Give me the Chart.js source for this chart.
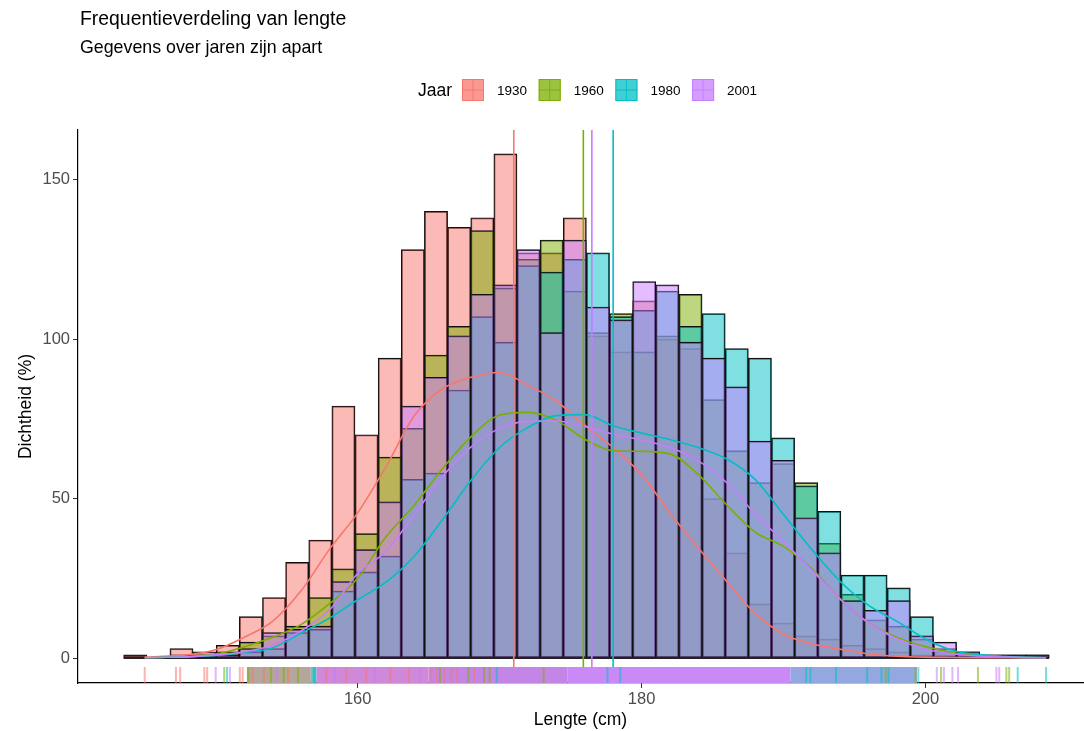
<!DOCTYPE html>
<html>
<head>
<meta charset="utf-8">
<script src="https://cdn.jsdelivr.net/npm/chart.js@4.4.1/dist/chart.umd.min.js"></script>
<style>
  body { margin: 0; background: #fff; }
  canvas { display: block; }
</style>
</head>
<body>
<canvas id="chart" width="1084" height="731"></canvas>
<script>
const FONT = '"Liberation Sans", Arial, sans-serif';

const titleText = 'Frequentieverdeling van lengte';
const subtitleText = 'Gegevens over jaren zijn apart';
const legendTitle = 'Jaar';

const years = ['1930', '1960', '1980', '2001'];
const colors = ['#F8766D', '#7CAE00', '#00BFC4', '#C77CFF'];

// histogram bins (centre of each bin, cm)
const binCenters = [144.33, 145.96, 147.59, 149.22, 150.85, 152.48, 154.11, 155.74, 157.37, 159.00,
  160.63, 162.26, 163.89, 165.52, 167.15, 168.78, 170.41, 172.04, 173.67, 175.30,
  176.93, 178.56, 180.19, 181.82, 183.45, 185.08, 186.71, 188.34, 189.97, 191.60,
  193.23, 194.86, 196.49, 198.12, 199.75, 201.38, 203.01, 204.64, 206.27, 207.90];

const count1930 = [1, 0, 3, 2, 4, 13, 19, 30, 37, 79, 70, 94, 128, 140, 135, 138, 158, 127, 127, 138,
  101, 96, 112, 100, 97, 50, 33, 17, 11, 7, 6, 4, 3, 2, 1, 1, 0, 0, 0, 0];
const count1960 = [0, 0, 0, 1, 2, 5, 7, 10, 19, 28, 39, 63, 72, 95, 104, 134, 116, 125, 131, 115,
  102, 108, 96, 101, 114, 81, 65, 55, 61, 55, 36, 20, 12, 10, 6, 2, 1, 0, 1, 0];
const count1980 = [0, 0, 0, 0, 1, 2, 3, 8, 9, 21, 27, 32, 56, 58, 84, 107, 99, 123, 121, 125,
  127, 107, 109, 115, 104, 108, 97, 94, 69, 54, 46, 26, 26, 22, 13, 3, 2, 1, 0, 1];
const count2001 = [0, 0, 1, 1, 1, 3, 8, 9, 10, 24, 34, 49, 79, 88, 101, 114, 117, 128, 102, 131,
  110, 106, 118, 117, 99, 94, 85, 68, 62, 44, 33, 18, 15, 18, 7, 5, 2, 1, 1, 1];

// density curves
const densityX = [145, 146, 148, 150, 152, 154, 156, 158, 160, 162, 164, 166, 168, 170, 172, 174, 176,
  178, 180, 182, 184, 186, 188, 190, 192, 194, 196, 198, 200, 202, 204, 206, 208, 208.5];
const density1930 = [0.3, 0.5, 1.0, 2.6, 6.5, 11.5, 21, 34, 45.5, 60, 76, 84.5, 88, 89.5, 85.5, 80.5, 73,
  66, 57.5, 45.5, 34.5, 24, 14, 7.5, 4.5, 2.8, 1.3, 0.6, 0.3, 0.2, 0.1, 0.1, 0.1, 0.1];
const density1960 = [0.1, 0.2, 0.5, 1.3, 3.5, 6.5, 10.5, 17, 25, 38, 48, 59.5, 69.4, 76.2, 77, 74.5, 68.6,
  65, 64.8, 64, 57.5, 48, 39.5, 35, 28, 18.5, 11, 6.5, 3.6, 1.7, 0.7, 0.3, 0.1, 0.1];
const density1980 = [0.1, 0.2, 0.4, 0.8, 1.8, 3.2, 7.8, 12.5, 18.3, 23.8, 32, 43.5, 55.8, 66, 72.3, 76, 76.3,
  72.8, 70.5, 68.5, 66, 62.4, 56, 45, 34, 24, 16.5, 11.5, 6, 2.3, 1, 0.4, 0.2, 0.1];
const density2001 = [0.1, 0.2, 0.4, 1, 2, 4, 8.5, 15, 26.5, 33.5, 45, 57, 66.2, 72, 74.2, 74.3, 72.6,
  70.2, 68.3, 66, 61.8, 55, 45.2, 36.6, 27.5, 18.5, 11, 6, 2.8, 1.3, 0.6, 0.3, 0.1, 0.1];

// mean length per year
const means = [171.0, 175.9, 178.0, 176.5];

// rug: dense stretches and single visible ticks
const rugBandFrom = [152.2, 156.7, 157.1, 165.0, 174.8, 190.5];
const rugBandTo = [156.7, 157.1, 165.0, 174.8, 190.5, 199.4];
const rugBandColor = ['#b4a69a', '#74c2c6', '#d088d8', '#c486e6', '#c98af8', '#93a8e0'];
const rug1930 = [145.0, 147.2, 147.5, 149.2, 149.4, 151.7, 151.9, 152.6, 153.4, 155.1, 157.8, 159.2,
  160.6, 162.3, 163.6, 165.2, 165.6, 166.1, 166.6, 167.0, 168.2];
const rug1960 = [150.6, 152.3, 153.9, 154.8, 155.8, 165.8, 167.8, 168.9, 169.3, 173.1, 197.2, 199.3,
  201.1, 203.7, 205.7, 205.9];
const rug1980 = [150.8, 156.9, 157.0, 169.8, 177.6, 178.5, 191.6, 191.9, 193.7, 195.9, 196.9, 197.4,
  199.5, 206.5, 208.5];
const rug2001 = [150.0, 151.0, 154.3, 158.4, 161.2, 164.4, 200.8, 201.3, 201.9, 202.3, 205.0, 205.2];

const xTicks = [160, 180, 200];
const yTicks = [0, 50, 100, 150];
const xMin = 140.3, xMax = 211.1;
const yMin = -7.8, yMax = 165.5;
const rugTop = -2.8; // mean lines stop where the rug starts

const counts = [count1930, count1960, count1980, count2001];
const densities = [density1930, density1960, density1980, density2001];
const rugs = [rug1930, rug1960, rug1980, rug2001];

function alpha(hex, a) {
  const n = parseInt(hex.slice(1), 16);
  return `rgba(${(n >> 16) & 255},${(n >> 8) & 255},${n & 255},${a})`;
}

const binHalf = (binCenters[1] - binCenters[0]) / 2;

const datasets = [];
years.forEach((yr, i) => {
  datasets.push({
    type: 'bar',
    label: yr,
    data: binCenters.map((x, k) => ({ x: x, y: counts[i][k] > 0 ? counts[i][k] : null })),
    backgroundColor: alpha(colors[i], 0.5),
    borderColor: '#111',
    borderWidth: 1.1,
    borderSkipped: false,
    grouped: false,
    barPercentage: 1,
    categoryPercentage: 1,
    order: 20 - i
  });
});
datasets.push({
  type: 'line',
  label: 'basis',
  data: [{ x: binCenters[0] - binHalf, y: 0 }, { x: binCenters[binCenters.length - 1] + binHalf, y: 0 }],
  borderColor: '#222',
  borderWidth: 2,
  pointRadius: 0,
  order: 12
});
years.forEach((yr, i) => {
  datasets.push({
    type: 'line',
    label: 'dichtheid ' + yr,
    data: densityX.map((x, k) => ({ x: x, y: densities[i][k] })),
    borderColor: colors[i],
    borderWidth: 1.6,
    pointRadius: 0,
    cubicInterpolationMode: 'monotone',
    order: 10 - i
  });
});
years.forEach((yr, i) => {
  datasets.push({
    type: 'line',
    label: 'gemiddelde ' + yr,
    data: [{ x: means[i], y: rugTop }, { x: means[i], y: yMax }],
    borderColor: colors[i],
    borderWidth: 1.6,
    pointRadius: 0,
    order: 5 - i
  });
});

const rugPlugin = {
  id: 'rug',
  afterDatasetsDraw(chart) {
    const { ctx, chartArea, scales } = chart;
    const x = scales.x;
    const h = 16;
    const top = chartArea.bottom - h;
    ctx.save();
    ctx.beginPath();
    ctx.rect(chartArea.left, chartArea.top, chartArea.right - chartArea.left, chartArea.bottom - chartArea.top);
    ctx.clip();
    rugBandFrom.forEach((from, i) => {
      const a = x.getPixelForValue(from);
      const b = x.getPixelForValue(rugBandTo[i]);
      ctx.fillStyle = rugBandColor[i];
      ctx.fillRect(a, top, b - a, h);
    });
    rugs.forEach((list, i) => {
      ctx.fillStyle = alpha(colors[i], 0.55);
      list.forEach(v => {
        const px = x.getPixelForValue(v);
        ctx.fillRect(px - 1, top, 2, h);
      });
    });
    ctx.restore();
  }
};

const headerPlugin = {
  id: 'header',
  afterDraw(chart) {
    const ctx = chart.ctx;
    ctx.save();
    ctx.fillStyle = '#000';
    ctx.textBaseline = 'middle';
    ctx.textAlign = 'left';
    ctx.font = '19.4px ' + FONT;
    ctx.fillText(titleText, 80, 20);
    ctx.font = '17.8px ' + FONT;
    ctx.fillText(subtitleText, 80, 48);

    ctx.font = '17.5px ' + FONT;
    ctx.fillText(legendTitle, 418, 91);
    years.forEach((yr, i) => {
      const kx = 462 + i * 76.7, ky = 79, s = 22;
      ctx.fillStyle = alpha(colors[i], 0.75);
      ctx.fillRect(kx, ky, s, s);
      ctx.strokeStyle = colors[i];
      ctx.lineWidth = 1;
      ctx.strokeRect(kx + 0.5, ky + 0.5, s - 1, s - 1);
      ctx.beginPath();
      ctx.moveTo(kx + s / 2, ky);
      ctx.lineTo(kx + s / 2, ky + s);
      ctx.moveTo(kx, ky + s / 2);
      ctx.lineTo(kx + s, ky + s / 2);
      ctx.strokeStyle = alpha(colors[i], 0.9);
      ctx.stroke();
      ctx.fillStyle = '#000';
      ctx.font = '13.5px ' + FONT;
      ctx.fillText(yr, kx + 35, ky + s / 2 + 1);
    });
    ctx.restore();
  }
};

new Chart(document.getElementById('chart'), {
  type: 'bar',
  data: { datasets: datasets },
  plugins: [rugPlugin, headerPlugin],
  options: {
    responsive: false,
    animation: false,
    devicePixelRatio: 1,
    events: [],
    layout: { padding: { top: 130, right: 1, left: 0, bottom: 0 } },
    plugins: {
      legend: { display: false },
      tooltip: { enabled: false },
      title: { display: false }
    },
    scales: {
      x: {
        type: 'linear',
        min: xMin,
        max: xMax,
        offset: false,
        afterBuildTicks: s => { s.ticks = xTicks.map(v => ({ value: v })); },
        afterFit: s => { s.height = 48; },
        grid: { display: true, drawOnChartArea: false, drawTicks: true, tickLength: 5, color: '#333', offset: false },
        border: { display: true, color: '#000', width: 1.2 },
        ticks: { color: '#4d4d4d', font: { size: 16.5, family: FONT }, padding: 2, maxRotation: 0 },
        title: { display: true, text: 'Lengte (cm)', color: '#000', font: { size: 17.5, family: FONT }, padding: { top: 0, bottom: 0 } }
      },
      y: {
        type: 'linear',
        min: yMin,
        max: yMax,
        afterBuildTicks: s => { s.ticks = yTicks.map(v => ({ value: v })); },
        afterFit: s => { s.width = 78; },
        grid: { display: true, drawOnChartArea: false, drawTicks: true, tickLength: 5, color: '#333' },
        border: { display: true, color: '#000', width: 1.2 },
        ticks: { color: '#4d4d4d', font: { size: 16.5, family: FONT }, padding: 3 },
        title: { display: true, text: 'Dichtheid (%)', color: '#000', font: { size: 17.5, family: FONT }, padding: { top: 16, bottom: 0 } }
      }
    }
  }
});
</script>
</body>
</html>
